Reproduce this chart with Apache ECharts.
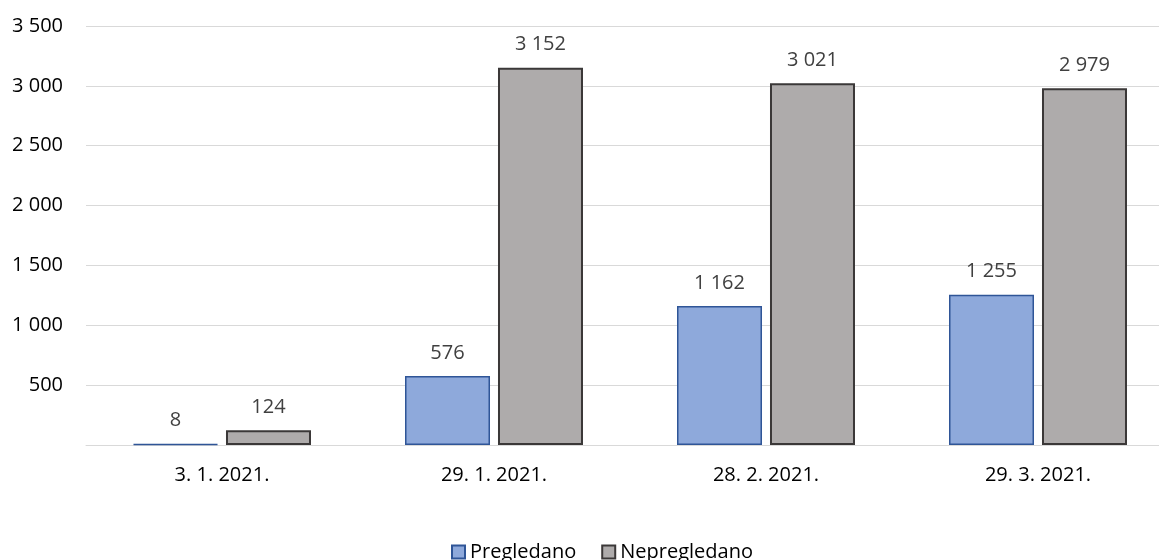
<!DOCTYPE html>
<html>
<head>
<meta charset="utf-8">
<script src="https://cdn.jsdelivr.net/npm/echarts@6/dist/echarts.min.js"></script>
<style>
  html, body { margin: 0; padding: 0; background: #ffffff; overflow: hidden; width: 1159px; height: 560px; }
  #chart { width: 1180px; height: 560px; }
</style>
</head>
<body>
<div id="chart"></div>
<script>
const categories = ['3. 1. 2021.', '29. 1. 2021.', '28. 2. 2021.', '29. 3. 2021.'];
const pregledano = [8, 576, 1162, 1255];
const nepregledano = [124, 3152, 3021, 2979];
const seriesNames = ['Pregledano', 'Nepregledano'];

function fmt(v) {
  return String(v).replace(/\B(?=(\d{3})+(?!\d))/g, ' ');
}

const FONT = '"Open Sans", "Noto Sans", sans-serif';

const chart = echarts.init(document.getElementById('chart'), null, { renderer: 'canvas' });
chart.setOption({
  animation: false,
  backgroundColor: '#ffffff',
  textStyle: { fontFamily: FONT },
  grid: { left: 86, top: 26, width: 1088, height: 419, containLabel: false },
  legend: {
    left: 446,
    top: 537,
    itemWidth: 13,
    itemHeight: 13,
    itemGap: 25,
    icon: 'rect',
    textStyle: { fontFamily: FONT, fontSize: 20, color: '#000000' },
    data: seriesNames
  },
  xAxis: {
    type: 'category',
    data: categories,
    axisTick: { show: false },
    axisLine: { lineStyle: { color: '#D9D9D9', width: 1 } },
    axisLabel: { margin: 20, fontFamily: FONT, fontSize: 20, color: '#000000' }
  },
  yAxis: {
    type: 'value',
    min: 0,
    max: 3500,
    interval: 500,
    axisLine: { show: false },
    axisTick: { show: false },
    splitLine: { lineStyle: { color: '#D9D9D9', width: 1 } },
    axisLabel: {
      showMinLabel: false,
      margin: 23,
      fontFamily: FONT,
      fontSize: 20,
      color: '#000000',
      formatter: function (v) { return v === 0 ? '' : fmt(v); }
    }
  },
  series: [
    {
      name: seriesNames[0],
      type: 'bar',
      data: pregledano,
      barWidth: 85,
      barGap: '9.4%',
      itemStyle: { color: '#8EA9DB', borderColor: '#2F5597', borderWidth: 1.5 },
      label: {
        show: true, position: 'top', distance: 13,
        fontFamily: FONT, fontSize: 20, color: '#404040',
        formatter: function (p) { return fmt(p.value); }
      }
    },
    {
      name: seriesNames[1],
      type: 'bar',
      data: nepregledano,
      barWidth: 85,
      itemStyle: { color: '#AEABAB', borderColor: '#3B3838', borderWidth: 2 },
      label: {
        show: true, position: 'top', distance: 13,
        fontFamily: FONT, fontSize: 20, color: '#404040',
        formatter: function (p) { return fmt(p.value); }
      }
    }
  ]
});
</script>
</body>
</html>
